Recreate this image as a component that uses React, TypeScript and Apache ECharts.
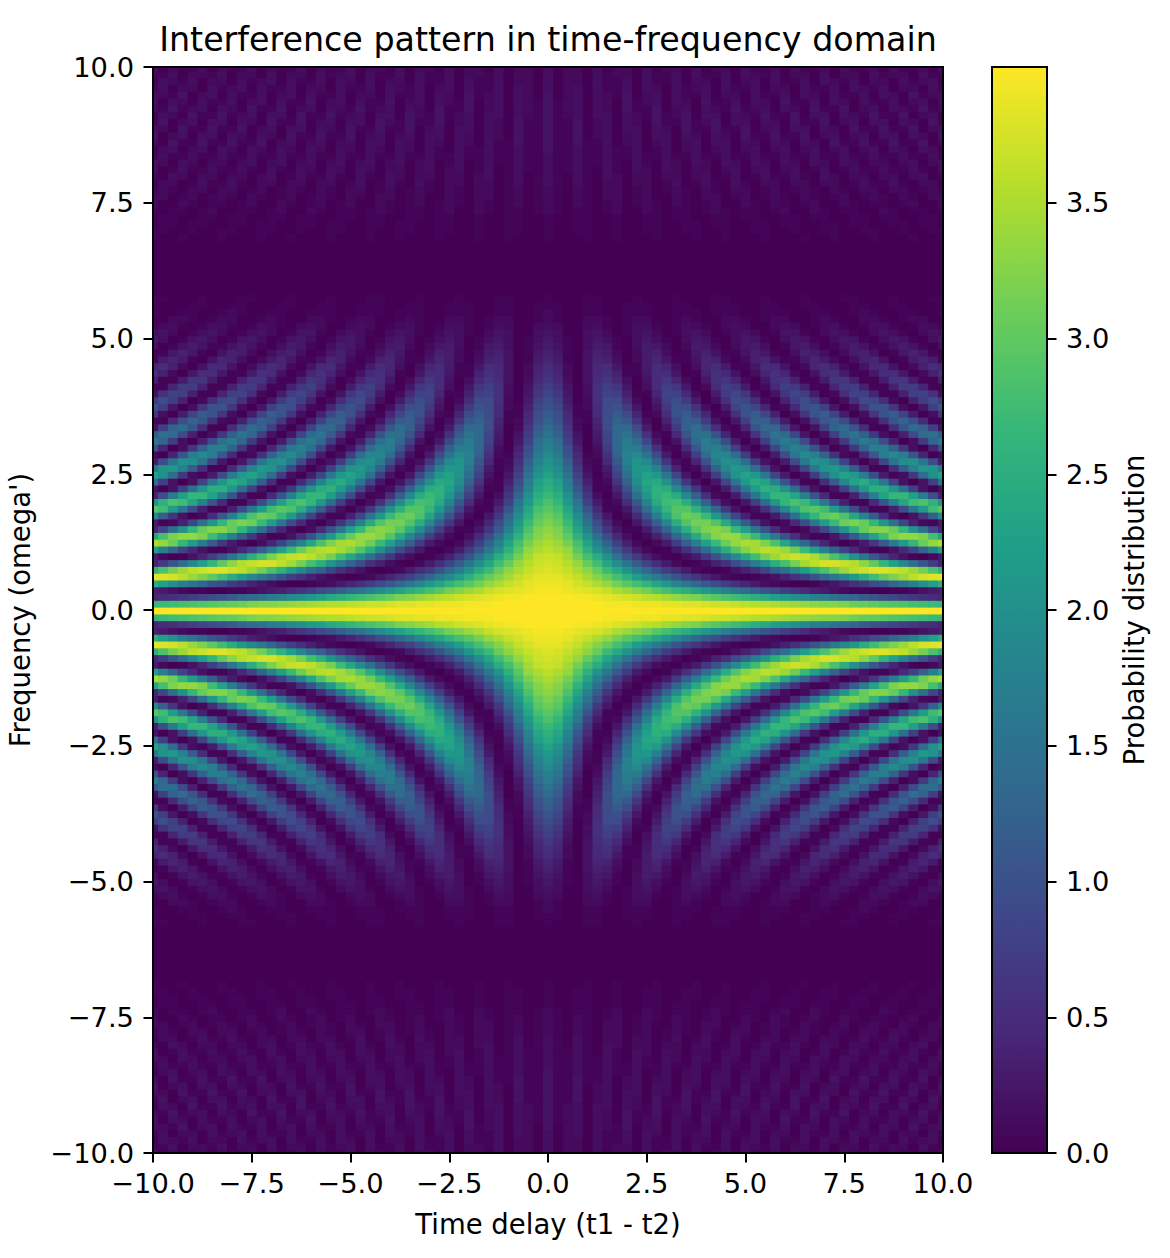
import React, { useEffect, useRef } from "react";
import * as echarts from "echarts";

const titleText = "Interference pattern in time-frequency domain";
const xLabel = "Time delay (t1 - t2)";
const yLabel = "Frequency (omega')";
const barLabel = "Probability distribution";
const colorbarTicks = [0, 0.5, 1, 1.5, 2, 2.5, 3, 3.5];
const colorMax = 4;
const viridis = ["#440154", "#482878", "#3e4989", "#31688e", "#26828e", "#1f9e89", "#35b779", "#6ece58", "#b5de2b", "#fde725"];
const tauStep = 0.25;
const omegaStep = 0.125;
const valueUnit = 0.05;
const darkRow = [0,0,0,0,0,0,0,0,0,0,0,0,0,0,0,0,0,0,0,0,0,0,0,0,0,0,0,0,0,0,0,0,0,0,0,0,0,0,0,0,0];

// Estimated values for tau >= 0, omega >= 0, in units of valueUnit; rows are omega, columns tau.
const quadrant = [
[80,80,80,80,80,80,80,80,80,80,80,80,80,80,80,80,80,80,80,80,80,80,80,80,80,80,80,80,80,80,80,80,80,80,80,80,80,80,80,80,80],
[80,80,80,80,80,80,79,79,79,78,78,78,77,77,76,76,75,74,74,73,72,71,71,70,69,68,67,66,65,65,64,62,61,60,59,58,57,56,55,54,53],
[80,80,80,79,79,78,77,76,75,74,72,71,69,67,65,64,61,59,57,55,53,50,48,45,43,40,38,35,33,30,28,26,23,21,19,17,15,13,11,10,8],
[79,79,78,77,76,75,73,70,68,65,63,59,56,53,50,46,43,39,35,31,28,24,21,18,15,12,10,7,6,4,2,1,1,0,0,1,1,2,4,6,7],
[78,78,77,75,73,70,67,63,59,56,52,47,42,37,32,27,22,19,15,11,8,6,3,2,1,0,0,1,3,5,7,11,14,18,21,26,30,35,40,45,50],
[77,77,75,73,69,65,61,56,51,44,38,33,27,21,16,12,8,5,2,1,0,1,2,4,7,11,15,20,26,32,37,43,49,55,60,64,68,72,75,76,77],
[76,75,73,70,66,61,54,48,41,33,27,20,14,10,6,2,1,0,1,4,7,11,17,24,29,37,44,51,57,63,68,72,74,76,76,74,72,68,63,57,51],
[75,74,71,67,61,55,47,39,31,23,16,10,6,2,0,1,3,7,11,18,25,33,41,50,56,63,69,72,75,75,73,71,66,60,53,45,37,28,21,14,8],
[74,73,69,63,56,49,40,30,21,14,7,3,1,0,3,6,13,20,29,38,47,55,63,68,72,74,73,70,64,57,50,40,31,22,15,8,4,1,0,2,6],
[72,70,67,59,51,41,32,22,14,6,2,0,1,5,11,19,28,39,49,58,65,69,72,71,68,62,54,45,35,25,16,9,4,1,1,4,9,16,25,35,45],
[70,68,63,56,46,35,25,15,7,2,0,2,6,14,24,34,45,54,62,67,70,69,64,57,47,36,26,16,8,3,0,2,6,13,23,33,44,53,62,67,70],
[68,65,60,51,41,29,18,9,3,0,2,7,15,26,37,48,58,65,68,67,61,54,43,32,20,11,4,1,1,5,13,23,34,46,55,64,67,67,64,56,47],
[66,64,57,47,35,23,12,5,1,1,6,15,26,38,50,59,64,66,63,54,45,32,20,10,3,0,2,8,17,29,41,53,61,65,65,61,53,41,29,17,8],
[64,61,54,43,30,18,8,2,0,5,13,24,37,49,58,63,63,58,48,36,23,12,4,0,2,9,18,31,44,54,62,64,61,53,42,29,17,7,2,1,6],
[62,59,50,39,26,13,5,0,2,9,21,34,47,57,62,60,54,43,30,17,7,1,1,6,16,29,43,53,60,62,57,47,35,22,10,2,0,4,12,24,38],
[59,56,47,34,21,9,1,1,5,16,29,42,53,58,58,51,40,26,13,4,0,3,11,23,37,49,57,59,55,44,32,18,7,1,1,7,18,32,44,55,59],
[57,53,43,31,16,6,1,2,10,22,36,48,55,56,50,38,24,11,3,0,5,15,28,42,53,57,54,45,32,18,7,1,1,9,21,35,47,55,57,51,40],
[54,50,40,26,13,3,0,5,15,29,42,51,54,49,38,24,11,2,1,6,18,31,44,53,53,47,36,21,9,1,1,7,20,34,46,53,53,45,33,19,7],
[51,47,36,22,10,1,1,8,20,35,45,51,49,38,25,12,3,1,6,18,32,44,51,49,41,28,13,4,0,4,15,29,42,50,50,42,29,15,4,0,4],
[49,45,34,19,7,1,2,12,25,39,47,48,40,27,13,4,0,5,17,31,43,49,46,35,21,9,1,1,10,23,37,46,49,42,31,16,4,0,4,15,29],
[46,41,30,16,5,0,4,16,29,41,46,43,31,17,5,0,4,15,29,41,46,43,32,17,6,0,3,14,28,40,46,43,33,18,6,1,3,13,28,40,46],
[43,38,27,13,3,1,6,19,32,42,42,35,21,8,1,2,11,25,37,43,40,29,15,4,0,5,17,31,41,43,36,23,10,1,1,10,23,36,43,41,31],
[41,36,24,11,2,1,9,22,35,41,38,26,12,3,1,8,20,33,40,38,28,14,4,1,6,18,32,40,39,30,16,5,0,5,17,30,39,40,31,18,6],
[38,33,21,9,1,2,11,25,36,38,30,18,6,0,4,15,28,37,37,28,14,3,0,6,19,31,38,35,24,11,2,1,9,22,34,38,33,21,8,0,2],
[35,30,19,7,0,3,14,26,34,33,24,11,2,1,9,22,33,35,28,15,4,0,5,17,29,35,31,20,8,0,3,12,25,34,34,25,12,3,0,8,20],
[33,28,16,5,0,5,16,27,33,28,17,5,0,4,16,27,33,29,18,6,0,4,15,27,33,29,18,6,0,4,14,26,33,29,18,7,0,3,14,26,33],
[30,25,14,4,0,6,17,27,30,23,11,2,1,9,21,29,29,20,8,1,2,12,23,30,27,17,5,0,4,15,26,30,24,13,3,0,7,18,28,29,22],
[28,23,12,2,0,7,19,27,27,18,6,0,4,14,24,28,22,11,2,1,8,20,27,26,16,5,0,4,15,25,28,21,10,1,1,10,21,28,25,15,4],
[25,20,10,2,1,8,19,25,22,12,3,0,7,17,24,23,14,4,0,5,15,24,24,16,6,0,3,13,22,24,18,7,1,2,11,21,25,19,9,1,1],
[23,19,9,1,1,10,19,23,18,8,1,2,10,20,23,17,8,1,2,11,20,23,17,7,0,3,12,21,23,16,6,0,3,12,21,23,16,6,0,3,13],
[21,17,7,1,2,10,18,20,14,5,0,4,13,20,19,11,3,0,6,16,21,17,8,1,2,9,18,21,15,5,0,3,12,20,20,12,3,0,5,15,21],
[19,15,6,0,2,11,18,18,10,2,0,6,15,19,14,6,0,3,11,18,17,10,2,0,7,15,19,14,5,0,3,11,18,17,10,2,0,7,15,19,14],
[17,13,5,0,3,11,16,15,7,1,1,8,16,16,9,2,0,6,14,17,12,4,0,4,12,17,14,6,0,2,10,16,15,8,1,1,7,15,16,11,3],
[15,11,4,0,3,11,15,12,5,0,3,10,15,13,5,0,2,10,15,13,6,0,2,9,15,13,7,1,1,8,14,14,7,1,1,7,14,14,8,1,1],
[13,9,3,0,4,10,13,9,3,0,4,10,13,8,2,0,5,11,12,8,2,0,5,11,12,7,1,1,6,12,12,7,1,1,6,12,12,6,1,1,7],
[11,8,2,0,4,9,11,7,1,1,5,10,10,5,0,1,7,11,9,4,0,3,8,11,8,2,0,4,10,11,6,1,1,5,10,10,5,0,2,7,11],
[10,7,2,0,4,9,10,5,1,1,6,10,8,3,0,3,8,10,6,1,1,5,10,9,4,0,2,8,10,7,2,0,4,9,9,4,0,2,7,10,8],
[8,6,1,0,4,8,7,3,0,2,6,8,5,1,1,4,8,7,2,0,2,7,8,4,1,1,5,8,6,2,0,3,7,8,4,0,1,6,8,6,1],
[7,5,1,0,4,7,6,2,0,2,6,7,3,0,1,5,7,4,1,1,4,7,5,1,0,3,7,6,3,0,2,6,7,4,0,1,5,7,5,1,0],
[6,4,1,0,3,6,5,1,0,3,6,5,2,0,2,6,5,2,0,2,5,6,3,0,1,5,6,3,0,1,4,6,4,1,1,4,6,4,1,0,3],
[5,3,1,0,3,5,3,1,0,3,5,3,1,0,3,5,4,1,0,3,5,4,1,0,3,5,4,1,0,3,5,4,1,0,3,5,4,1,0,3,5],
[4,3,0,0,3,4,2,0,1,3,4,2,0,1,3,4,2,0,1,3,4,2,0,1,4,4,1,0,2,4,3,1,0,2,4,3,1,0,2,4,3],
[3,2,0,0,2,3,1,0,1,3,3,1,0,1,3,2,1,0,2,3,2,0,0,2,3,2,0,1,2,3,1,0,1,3,3,1,0,1,3,2,1],
[2,1,0,0,2,2,1,0,1,2,2,0,0,1,2,1,0,0,2,2,1,0,1,2,2,0,0,1,2,1,0,0,2,2,1,0,1,2,2,0,0],
[2,1,0,0,1,1,0,0,1,1,1,0,0,1,1,1,0,1,1,1,0,0,1,1,1,0,0,1,1,0,0,1,2,1,0,0,1,1,0,0,1],
[1,1,0,0,1,1,0,0,1,1,1,0,0,1,1,0,0,1,1,1,0,0,1,1,0,0,1,1,0,0,0,1,1,0,0,1,1,0,0,0,1],
[1,0,0,0,1,1,0,0,0,1,0,0,0,1,0,0,0,1,1,0,0,0,1,0,0,0,1,0,0,0,1,1,0,0,0,1,0,0,0,1,1],
darkRow,darkRow,darkRow,darkRow,darkRow,darkRow,darkRow,darkRow,
[1,0,0,0,1,0,0,1,0,0,0,1,0,0,0,1,0,0,1,0,0,0,1,0,0,0,1,0,0,1,0,0,0,1,0,0,0,1,0,0,1],
[1,0,0,1,1,0,0,1,0,0,1,1,0,0,1,1,0,0,1,0,0,1,1,0,0,1,0,0,1,1,0,0,1,1,0,0,1,0,0,1,1],
[1,0,0,1,1,0,0,1,0,0,1,1,0,0,1,1,0,1,1,0,0,1,1,0,1,1,0,0,1,1,0,1,1,0,0,1,1,0,1,1,0],
[1,0,0,1,1,0,0,1,0,0,1,1,0,1,1,0,0,1,1,0,1,1,0,0,1,1,0,1,1,0,0,1,1,0,1,1,0,0,1,1,0],
[2,1,0,1,1,0,1,2,0,0,2,1,0,1,1,0,1,2,1,0,1,1,0,1,2,0,0,2,1,0,1,1,0,0,2,1,0,1,1,0,1],
[2,1,0,2,1,0,1,2,0,1,2,1,0,2,1,0,1,2,0,0,2,1,0,2,1,0,1,2,0,0,2,1,0,1,1,0,1,2,0,0,2],
[2,1,0,2,1,0,2,2,0,1,2,0,0,2,1,0,2,2,0,1,2,0,1,2,1,0,2,1,0,1,2,0,1,2,1,0,2,1,0,2,2],
[2,1,0,2,1,0,2,2,0,1,2,0,1,2,1,0,2,1,0,2,2,0,1,2,0,1,2,1,0,2,1,0,2,2,0,2,2,0,1,2,1],
[3,1,0,3,1,0,2,2,0,2,2,0,1,3,0,1,3,1,0,3,1,0,2,2,0,2,2,0,2,2,0,1,3,1,1,3,1,0,2,2,0],
[3,1,0,3,1,0,3,2,0,2,2,0,2,2,0,2,3,0,1,3,0,1,3,1,1,3,1,0,3,2,0,2,2,0,2,2,0,2,3,0,1],
[3,1,1,3,1,0,3,1,0,3,2,0,3,2,0,2,2,0,2,3,0,2,3,0,2,3,0,1,3,0,1,3,1,1,3,1,1,3,1,0,3],
[3,1,1,3,1,1,3,1,0,3,1,0,3,2,0,3,2,0,3,2,0,3,2,0,3,2,0,3,2,0,3,2,0,2,2,0,2,3,0,2,3],
[3,1,1,3,1,1,3,1,1,3,1,1,3,1,1,3,1,1,3,1,1,3,1,1,3,1,1,3,1,1,3,1,1,3,1,1,3,1,1,3,1],
[4,1,1,3,1,1,3,1,1,3,0,1,3,0,2,3,0,2,3,0,2,3,0,2,3,0,2,3,0,2,3,0,2,3,0,3,2,0,3,2,0],
[4,1,1,4,1,1,3,0,2,3,0,2,3,0,2,3,0,3,3,0,3,2,0,3,2,0,3,2,0,4,1,1,4,1,1,4,1,1,4,0,2],
[4,1,1,4,0,2,3,0,2,3,0,3,3,0,3,2,0,3,2,0,4,1,1,4,1,1,4,0,2,3,0,2,3,0,3,3,0,3,2,0,4],
[4,1,1,4,0,2,3,0,3,3,0,3,2,0,4,1,1,4,1,1,4,0,2,3,0,3,3,0,3,2,0,4,1,1,4,1,1,4,0,2,3],
[4,1,1,4,0,2,3,0,3,2,0,4,1,1,4,1,2,4,0,3,3,0,3,2,0,4,1,1,4,0,2,3,0,3,3,0,3,2,0,4,1],
[4,1,2,3,0,3,3,0,3,2,1,4,1,2,4,0,3,3,0,3,2,1,4,1,1,4,0,3,3,0,3,2,1,4,1,1,4,0,2,3,0],
[4,1,2,3,0,3,2,0,4,1,1,4,0,2,3,0,3,2,1,4,1,2,3,0,3,2,0,4,1,1,4,0,2,3,0,3,2,1,4,1,2],
[4,1,2,3,0,3,2,0,4,1,2,3,0,3,2,0,4,1,1,3,0,3,2,0,4,1,1,3,0,3,2,0,3,1,1,3,0,2,3,0,3],
[4,0,2,3,0,3,2,1,4,0,2,3,0,3,1,1,3,0,2,2,0,3,1,1,3,0,3,2,0,3,1,1,3,0,3,2,0,4,1,2,3],
[3,0,2,3,0,3,1,1,3,0,3,2,0,3,1,2,3,0,3,1,1,3,0,2,2,0,3,1,1,3,0,3,2,1,3,0,2,2,0,3,1],
[3,0,2,2,0,3,1,1,3,0,3,1,1,3,0,2,2,0,3,0,2,3,0,3,1,1,3,0,3,2,1,3,0,2,2,0,3,1,2,3,0],
[3,0,2,2,0,3,1,2,2,0,3,1,1,3,0,3,1,1,3,0,3,2,1,3,0,2,2,0,3,0,2,2,0,3,1,2,2,0,3,1,1],
[3,0,2,2,0,3,0,2,2,0,3,0,2,2,0,3,0,2,2,0,3,1,1,2,0,3,1,1,2,0,3,1,1,2,0,3,1,1,2,0,3],
];

const font = "DejaVu Sans";
const fmt = (v: number) => v.toFixed(1).replace("-", "\u2212");

function cells() {
  const out: number[][] = [];
  const nRow = quadrant.length - 1;
  const nCol = quadrant[0].length - 1;
  for (let m = -nRow; m <= nRow; m++) {
    for (let k = -nCol; k <= nCol; k++) {
      const raw = quadrant[Math.abs(m)][Math.abs(k)];
      out.push([k * tauStep, m * omegaStep, Math.min(raw * valueUnit, colorMax)]);
    }
  }
  return out;
}

export default function App() {
  const ref = useRef<HTMLDivElement>(null);
  useEffect(() => {
    const chart = echarts.init(ref.current!, undefined, { renderer: "svg" });
    const axisCommon = {
      type: "value",
      min: -10,
      max: 10,
      interval: 2.5,
      splitLine: { show: false },
      axisLine: { show: true, onZero: false, lineStyle: { color: "#000", width: 2 } },
      axisTick: { show: true, length: 9.5, lineStyle: { color: "#000", width: 2 } },
      nameLocation: "middle",
      nameTextStyle: { color: "#000", fontFamily: font, fontSize: 27.5 },
      z: 10,
    };
    const label = { color: "#000", fontFamily: font, fontSize: 27.3, formatter: fmt };
    chart.setOption({
      animation: false,
      backgroundColor: "#fff",
      title: {
        text: titleText,
        left: 543,
        top: 18,
        textAlign: "center",
        textStyle: { color: "#000", fontFamily: font, fontSize: 33.3, fontWeight: "normal" },
      },
      grid: [
        { left: 153, top: 67, width: 790, height: 1086, outerBoundsMode: "none" },
        { left: 992, top: 67, width: 55, height: 1086, outerBoundsMode: "none" },
      ],
      xAxis: [
        { ...axisCommon, gridIndex: 0, name: xLabel, nameGap: 57, axisLabel: { ...label, margin: 17 } },
        { type: "value", gridIndex: 1, min: 0, max: 1, show: false },
      ],
      yAxis: [
        { ...axisCommon, gridIndex: 0, name: yLabel, nameGap: 119, nameRotate: 90, axisLabel: { ...label, margin: 19 } },
        {
          type: "value",
          gridIndex: 1,
          position: "right",
          min: 0,
          max: colorMax,
          splitLine: { show: false },
          axisLine: { show: true, onZero: false, lineStyle: { color: "#000", width: 2 } },
          axisTick: { show: true, length: 9.5, customValues: colorbarTicks, lineStyle: { color: "#000", width: 2 } },
          axisLabel: { ...label, margin: 19, customValues: colorbarTicks },
          name: barLabel,
          nameLocation: "middle",
          nameRotate: 90,
          nameGap: 73,
          nameTextStyle: { color: "#000", fontFamily: font, fontSize: 27.5 },
          z: 10,
        },
      ],
      visualMap: {
        show: false,
        seriesIndex: 0,
        dimension: 2,
        min: 0,
        max: colorMax,
        inRange: { color: viridis },
      },
      series: [
        {
          type: "custom",
          xAxisIndex: 0,
          yAxisIndex: 0,
          data: cells(),
          encode: { x: 0, y: 1 },
          silent: true,
          renderItem: (_p: any, api: any) => {
            const t = api.value(0);
            const w = api.value(1);
            const a = api.coord([Math.max(t - tauStep / 2, -10), Math.min(w + omegaStep / 2, 10)]);
            const b = api.coord([Math.min(t + tauStep / 2, 10), Math.max(w - omegaStep / 2, -10)]);
            return {
              type: "rect",
              shape: { x: a[0], y: a[1], width: b[0] - a[0] + (t < 9.9 ? 1 : 0), height: b[1] - a[1] + (w > -9.9 ? 1 : 0) },
              style: { fill: api.visual("color") },
            };
          },
        },
        {
          type: "custom",
          xAxisIndex: 1,
          yAxisIndex: 1,
          data: [[0, 0]],
          silent: true,
          renderItem: (_p: any, api: any) => {
            const a = api.coord([0, colorMax]);
            const b = api.coord([1, 0]);
            return {
              type: "rect",
              shape: { x: a[0], y: a[1], width: b[0] - a[0], height: b[1] - a[1] },
              style: {
                fill: new echarts.graphic.LinearGradient(0, 1, 0, 0, viridis.map((color, i) => ({ offset: i / (viridis.length - 1), color }))),
              },
            };
          },
        },
      ],
      graphic: [
        { type: "rect", z: 100, silent: true, shape: { x: 153, y: 67, width: 790, height: 1086 }, style: { fill: "none", stroke: "#000", lineWidth: 2 } },
        { type: "rect", z: 100, silent: true, shape: { x: 992, y: 67, width: 55, height: 1086 }, style: { fill: "none", stroke: "#000", lineWidth: 2 } },
      ],
    });
    return () => chart.dispose();
  }, []);
  return <div ref={ref} style={{ position: "absolute", left: 0, top: 0, width: 1170, height: 1258 }} />;
}
